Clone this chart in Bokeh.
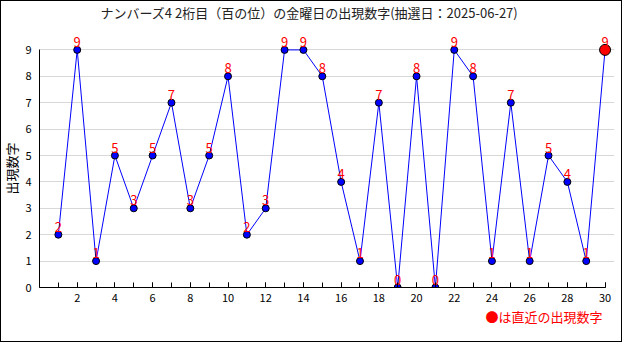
from bokeh.plotting import figure
from bokeh.models import ColumnDataSource, FixedTicker, Range1d, Title
from bokeh.embed import file_html
from bokeh.resources import INLINE
from bokeh.core.properties import value

draws = list(range(1, 31))
digits = [2, 9, 1, 5, 3, 5, 7, 3, 5, 8, 2, 3, 9, 9, 8, 4, 1, 7, 0, 8, 0, 9, 8, 1, 7, 1, 5, 4, 1, 9]
title_text = "ナンバーズ4 2桁目（百の位）の金曜日の出現数字(抽選日：2025-06-27)"
y_title = "出現数字"
note_text = "●は直近の出現数字"
x_major = list(range(2, 31, 2))
x_minor = list(range(0, 31))
y_ticks = list(range(0, 10))

FONT = "Noto Sans CJK JP"

src = ColumnDataSource(dict(x=draws, y=digits, t=[str(d) for d in digits]))
last = ColumnDataSource(dict(x=draws[-1:], y=digits[-1:]))

p = figure(width=622, height=342, output_backend="svg", toolbar_location=None,
           x_range=Range1d(0, 30.5), y_range=Range1d(0, 10.0))
p.min_border = 0
p.min_border_left = 38
p.min_border_right = 9
p.min_border_top = 22
p.min_border_bottom = 56
p.outline_line_color = None
p.background_fill_color = "white"
p.border_fill_color = "white"
p.styles = {"border": "1px solid black"}

p.title.text = title_text
p.title.align = "left"
p.title.offset = 61
p.title.vertical_align = "top"
p.title.text_font = FONT
p.title.text_font_size = "13px"
p.title.text_font_style = "normal"
p.title.text_color = "#222222"
p.title.standoff = 0

p.add_layout(Title(text=note_text, align="right", text_color="red", text_font=FONT,
                   text_font_size="13px", text_font_style="normal", offset=12, standoff=0), "below")
p.add_layout(Title(text=y_title, align="left", vertical_align="top", text_color="black",
                   text_font=FONT, text_font_size="13px", text_font_style="normal",
                   offset=93, standoff=0), "left")

p.xgrid.visible = False
p.ygrid.ticker = FixedTicker(ticks=y_ticks)
p.ygrid.grid_line_color = "#d8d8d8"
p.ygrid.bounds = (0, 30)

xa = p.xaxis[0]
xa.ticker = FixedTicker(ticks=x_major, minor_ticks=x_minor)
xa.bounds = (0, 30)
xa.major_tick_in = 5
xa.major_tick_out = 0
xa.minor_tick_in = 5
xa.minor_tick_out = 0
xa.major_label_standoff = 6
xa.major_label_text_font = FONT
xa.major_label_text_font_size = "11px"
xa.major_label_text_color = "black"
xa.axis_line_color = "black"
xa.major_tick_line_color = "black"
xa.minor_tick_line_color = "black"

ya = p.yaxis[0]
ya.ticker = FixedTicker(ticks=y_ticks)
ya.bounds = (0, 9)
ya.major_tick_in = 0
ya.major_tick_out = 0
ya.minor_tick_line_color = None
ya.major_label_standoff = 8
ya.major_label_text_font = FONT
ya.major_label_text_font_size = "11px"
ya.major_label_text_color = "black"
ya.axis_line_color = "black"

p.line("x", "y", source=src, line_color="blue", line_width=1)
p.scatter("x", "y", source=src, size=7, fill_color="blue", line_color="black", line_width=1)
p.scatter("x", "y", source=last, size=11, fill_color="red", line_color="black", line_width=1)
p.text("x", "y", text="t", source=src, text_color="red", text_font=value(FONT),
       text_font_size="13px", text_align="center", text_baseline="bottom", y_offset=-3)

open("out.html", "w").write(file_html(p, INLINE))
